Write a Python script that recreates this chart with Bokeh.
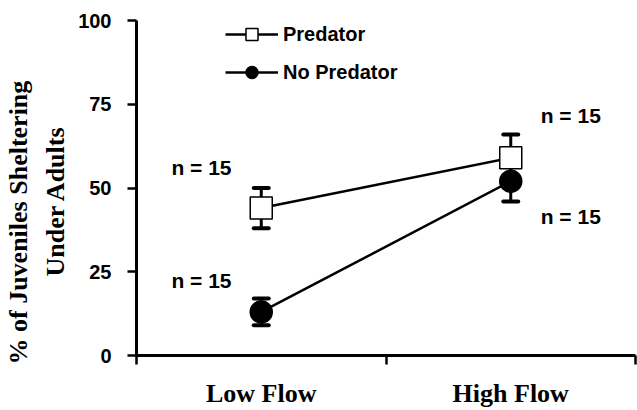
from bokeh.plotting import figure
from bokeh.models import (ColumnDataSource, Range1d, FixedTicker, Whisker, TeeHead,
                          Legend, LegendItem, Label, Title)
from bokeh.embed import file_html
from bokeh.resources import INLINE

# ---- data ----
conditions = ["Low Flow", "High Flow"]
x_pos = [1, 3]
predator = [44, 59]
predator_err = [6, 7]
no_predator = [13, 52]
no_predator_err = [4, 6]
y_ticks = [0, 25, 50, 75, 100]
y_title_lines = ["% of Juveniles Sheltering", "Under Adults"]
n_text = "n = 15"

SERIF = "Liberation Serif"
SANS = "Liberation Sans"

p = figure(width=637, height=410, output_backend="svg", toolbar_location=None,
           x_range=Range1d(0, 4), y_range=Range1d(0, 100),
           min_border_left=136, min_border_right=2, min_border_top=20,
           min_border_bottom=54)
p.outline_line_color = None
p.xgrid.grid_line_color = None
p.ygrid.grid_line_color = None
p.background_fill_color = "white"
p.border_fill_color = "white"

# y axis
ya = p.yaxis[0]
ya.ticker = FixedTicker(ticks=y_ticks)
ya.axis_line_width = 3
ya.major_tick_in = 0
ya.major_tick_out = 9
ya.major_tick_line_width = 2.5
ya.minor_tick_line_color = None
ya.major_label_text_font = SANS
ya.major_label_text_font_style = "bold"
ya.major_label_text_font_size = "20px"
ya.major_label_text_color = "black"
ya.major_label_standoff = 16

# two-line y-axis title (inner line added first so it sits next to the axis)
p.add_layout(Title(text=y_title_lines[1], align="left", offset=79,
                   text_font=SERIF, text_font_style="bold", text_font_size="26px",
                   text_color="black", standoff=12), "left")
p.add_layout(Title(text=y_title_lines[0], align="left", offset=-9,
                   text_font=SERIF, text_font_style="bold", text_font_size="26px",
                   text_color="black", standoff=0), "left")

# x axis
xa = p.xaxis[0]
xa.ticker = FixedTicker(ticks=x_pos, minor_ticks=[0, 2, 4])
xa.axis_line_width = 3
xa.major_tick_line_color = None
xa.major_tick_in = 0
xa.major_tick_out = 0
xa.minor_tick_in = 0
xa.minor_tick_out = 9
xa.minor_tick_line_width = 2.5
xa.major_label_overrides = {x_pos[i]: conditions[i] for i in range(len(x_pos))}
xa.major_label_text_font = SERIF
xa.major_label_text_font_style = "bold"
xa.major_label_text_font_size = "26px"
xa.major_label_text_color = "black"
xa.major_label_standoff = 14

# data sources
src_p = ColumnDataSource(dict(x=x_pos, y=predator,
                              lo=[v - e for v, e in zip(predator, predator_err)],
                              hi=[v + e for v, e in zip(predator, predator_err)]))
src_n = ColumnDataSource(dict(x=x_pos, y=no_predator,
                              lo=[v - e for v, e in zip(no_predator, no_predator_err)],
                              hi=[v + e for v, e in zip(no_predator, no_predator_err)]))

lp = p.line("x", "y", source=src_p, line_color="black", line_width=2.5)
ln = p.line("x", "y", source=src_n, line_color="black", line_width=2.5)

for src in (src_n, src_p):
    w = Whisker(source=src, base="x", upper="hi", lower="lo", dimension="height",
                line_color="black", line_width=3,
                upper_head=TeeHead(size=15, line_width=4, line_color="black", line_cap="round"),
                lower_head=TeeHead(size=15, line_width=4, line_color="black", line_cap="round"))
    p.add_layout(w)

sn = p.scatter("x", "y", source=src_n, marker="circle", size=22,
               fill_color="black", line_color="black", line_width=1.5)
sp = p.scatter("x", "y", source=src_p, marker="square", size=22,
               fill_color="white", line_color="black", line_width=1.5)

legend = Legend(items=[LegendItem(label="Predator", renderers=[lp, sp]),
                       LegendItem(label="No Predator", renderers=[ln, sn])],
                location=(89, 268), orientation="vertical",
                glyph_width=53, glyph_height=30, label_height=30,
                label_standoff=5, spacing=8, padding=0, margin=0,
                border_line_color=None, background_fill_alpha=0,
                label_text_font=SANS, label_text_font_style="bold",
                label_text_font_size="20px", label_text_color="black")
p.add_layout(legend)

# n labels (positioned relative to data points)
n_positions = [(x_pos[0] - 0.72, 56), (x_pos[0] - 0.72, 22.5),
               (x_pos[1] + 0.24, 71.5), (x_pos[1] + 0.24, 41.5)]
for (lx, ly) in n_positions:
    p.add_layout(Label(x=lx, y=ly, text=n_text, text_font=SANS, text_font_style="bold",
                       text_font_size="21px", text_color="black",
                       text_baseline="middle", text_align="left"))

open("out.html", "w").write(file_html(p, INLINE))
